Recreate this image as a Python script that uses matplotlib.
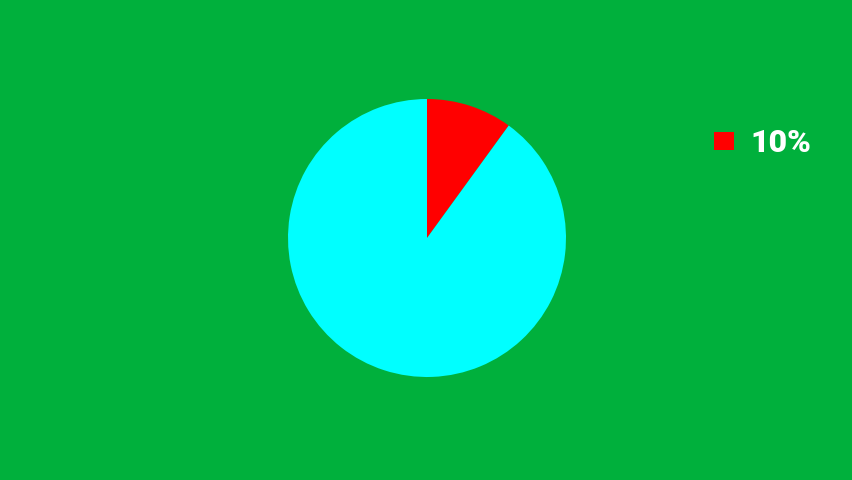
import matplotlib.pyplot as plt

labels = ["10%", ""]
values = [10, 90]
colors = ["#ff0000", "#00ffff"]
bg = "#00b03c"

fig = plt.figure(figsize=(8.52, 4.8), dpi=100, facecolor=bg)
cx, cy, r = 427, 238, 139
ax = fig.add_axes([(cx - r) / 852, (480 - cy - r) / 480, 2 * r / 852, 2 * r / 480])
ax.set_facecolor(bg)
wedges, _ = ax.pie(values, colors=colors, startangle=90, counterclock=False,
                   radius=1, wedgeprops=dict(linewidth=0))
ax.set_xlim(-1, 1)
ax.set_ylim(-1, 1)
ax.set_aspect("equal")
ax.axis("off")

leg = fig.legend(wedges[:1], labels[:1], loc="center left",
                 bbox_to_anchor=(714 / 852, 1 - 143.5 / 480),
                 frameon=False, borderpad=0, borderaxespad=0,
                 handlelength=0.63, handleheight=0.47, handletextpad=0.5,
                 prop=dict(family=["Roboto", "DejaVu Sans"], weight="heavy", size=23))
for t in leg.get_texts():
    t.set_color("white")

fig.savefig("out.png", dpi=100, facecolor=bg)
